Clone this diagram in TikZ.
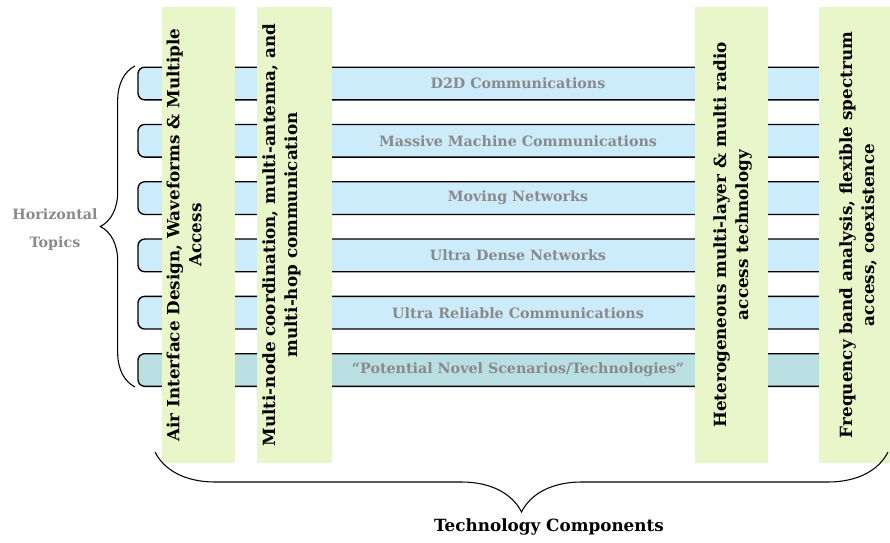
\documentclass[tikz,border=0pt]{standalone}
\usepackage{fontspec}
\setmainfont{DejaVu Serif}
\usepackage[HTML]{xcolor}
\usetikzlibrary{positioning, decorations.pathreplacing}
\definecolor{barblue}{HTML}{CCEBFB}
\definecolor{barteal}{HTML}{B9DFE2}
\definecolor{colgreen}{HTML}{E9F6CA}
\definecolor{topicgrey}{HTML}{8A8A8A}

\begin{document}
\begin{tikzpicture}[x=0.75pt,y=-0.75pt,
  topicbar/.style={draw=black, line width=1pt, rounded corners=5pt,
    minimum width=570pt, minimum height=24.5pt, inner sep=0pt,
    text=topicgrey, font=\bfseries\fontsize{10.7}{12}\selectfont},
  techcol/.style={fill=colgreen, draw=none, minimum height=342pt, inner sep=0pt},
  coltext/.style={rotate=90, align=center, font=\bfseries\fontsize{12.6}{16.5}\selectfont},
  bigbrace/.style={decorate, decoration={brace, amplitude=#1}, line width=0.8pt}]

\useasboundingbox (0,0) rectangle (890,543);

% Horizontal topics
\foreach \i/\name/\txt in {0/dtd/D2D Communications,
  1/mmc/Massive Machine Communications,
  2/mn/Moving Networks,
  3/udn/Ultra Dense Networks,
  4/urc/Ultra Reliable Communications}{
  \node[topicbar, fill=barblue] (\name) at (518,{83.5+57.3*\i}) {\txt};
}
\node[topicbar, fill=barteal] (pns) at (518,370) {“Potential Novel Scenarios/Technologies”};

% Technology components
\node[techcol, minimum width=54.75pt] (air) at (198.5,235) {};
\node[techcol, minimum width=56.25pt] (multi) at (294.5,235) {};
\node[techcol, minimum width=54.75pt] (het) at (731.5,235) {};
\node[techcol, minimum width=53.25pt] (freq) at (854.5,235) {};

\node[coltext] (airtxt) at (184,235) {Air Interface Design, Waveforms \& Multiple\\Access};
\node[coltext] (multitxt) at (281.5,235) {Multi-node coordination, multi-antenna, and\\multi-hop communication};
\node[coltext] (hettxt) at (732.5,235) {Heterogeneous multi-layer \& multi radio\\access technology};
\node[coltext] (freqtxt) at (858,235) {Frequency band analysis, flexible spectrum\\access, coexistence};

% Braces
\draw[bigbrace=26pt] (135,387) -- (135,66);
\node[text=topicgrey, align=center, font=\bfseries\fontsize{10.7}{21}\selectfont] (horiz) at (55,230) {Horizontal\\Topics};

\draw[bigbrace=45pt] (888,452) -- (155,452);
\node[font=\bfseries\fontsize{12.6}{14}\selectfont] (techcomp) at (549,527) {Technology Components};
\end{tikzpicture}
\end{document}
